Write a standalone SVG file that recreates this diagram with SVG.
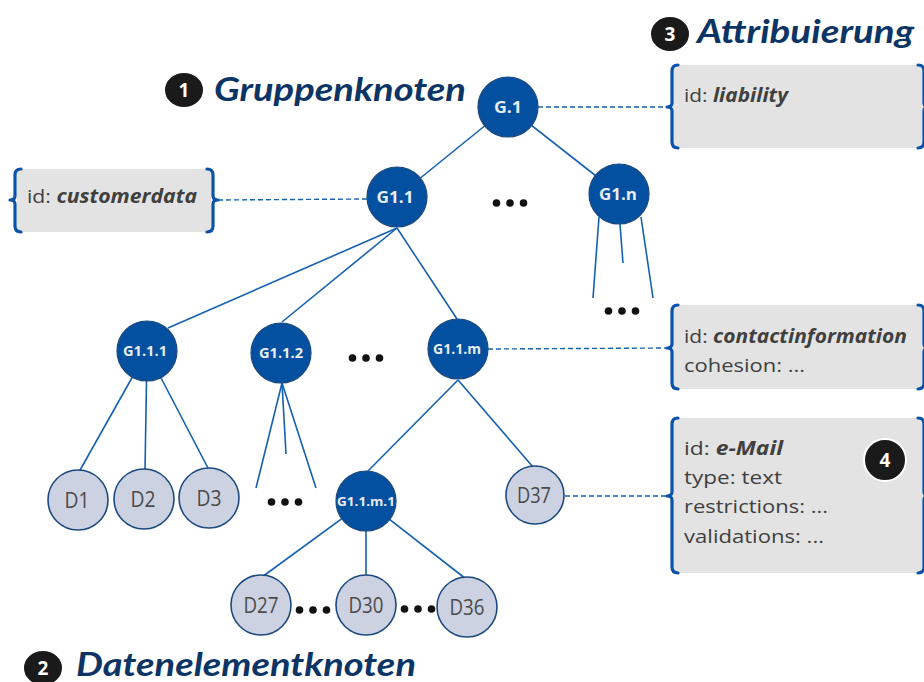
<svg xmlns="http://www.w3.org/2000/svg" width="924" height="682" viewBox="0 0 924 682">
  <defs>
    <style>
      .edge { stroke: #1560b0; stroke-width: 1.6; fill: none; }
      .dash { stroke: #1560b0; stroke-width: 1.4; fill: none; stroke-dasharray: 5 3; }
      .brace { stroke: #0a52a8; stroke-width: 3.2; fill: none; stroke-linecap: round; stroke-linejoin: round; }
      .box { fill: #e3e3e3; }
      .gnode { fill: #0350a0; stroke: #1d4a7e; stroke-width: 1.2; }
      .dnode { fill: #cdd2e2; stroke: #1d4a7e; stroke-width: 1.6; }
      .glabel { font-family: "Open Sans", Lato, "Liberation Sans", sans-serif; font-weight: bold; fill: #e8ecf3; text-anchor: middle; }
      .dlabel { font-family: "Open Sans", Lato, "Liberation Sans", sans-serif; font-size: 21px; fill: #4a4a4a; text-anchor: middle; }
      .attr { font-family: "Open Sans", Lato, "Liberation Sans", sans-serif; font-size: 19px; fill: #404040; }
      .val { font-weight: bold; font-style: italic; }
      .head { font-family: Lato, "Open Sans", "Liberation Sans", sans-serif; font-size: 32px; font-weight: bold; font-style: italic; fill: #0c3566; }
      .badge { fill: #1a1a1a; stroke: #ffffff; stroke-width: 2; }
      .badgenum { font-family: "Open Sans", Lato, "Liberation Sans", sans-serif; font-size: 19px; font-weight: bold; fill: #ffffff; text-anchor: middle; }
      .dot { fill: #111111; }
    </style>
    <g id="dots">
      <circle class="dot" cx="-13.5" cy="0" r="3.8"/>
      <circle class="dot" cx="0" cy="0" r="3.8"/>
      <circle class="dot" cx="13.5" cy="0" r="3.8"/>
    </g>
  </defs>

  <!-- attribute boxes -->
  <g id="box-customerdata">
    <rect class="box" x="17" y="169" width="194" height="63"/>
    <path class="brace" d="M21,169 Q15,169 15,175 L15,196 Q15,200 10,200 Q15,200 15,204 L15,226 Q15,232 21,232"/>
    <path class="brace" d="M207,169 Q213,169 213,175 L213,196 Q213,200 218,200 Q213,200 213,204 L213,226 Q213,232 207,232"/>
    <text class="attr" x="27" y="203" textLength="170" lengthAdjust="spacingAndGlyphs">id: <tspan class="val">customerdata</tspan></text>
  </g>

  <g id="box-liability">
    <rect class="box" x="673" y="65" width="250" height="83"/>
    <path class="brace" d="M678,65 Q672,65 672,71 L672,103 Q672,107 667,107 Q672,107 672,111 L672,142 Q672,148 678,148"/>
    <path class="brace" d="M918,65 Q924,65 924,71 L924,103 Q924,107 929,107 Q924,107 924,111 L924,142 Q924,148 918,148"/>
    <text class="attr" x="684" y="102" textLength="104" lengthAdjust="spacingAndGlyphs">id: <tspan class="val">liability</tspan></text>
  </g>

  <g id="box-contactinformation">
    <rect class="box" x="673" y="305" width="250" height="84"/>
    <path class="brace" d="M678,305 Q672,305 672,311 L672,344 Q672,348 667,348 Q672,348 672,352 L672,383 Q672,389 678,389"/>
    <path class="brace" d="M918,305 Q924,305 924,311 L924,344 Q924,348 929,348 Q924,348 924,352 L924,383 Q924,389 918,389"/>
    <text class="attr" x="684" y="343" textLength="223" lengthAdjust="spacingAndGlyphs">id: <tspan class="val">contactinformation</tspan></text>
    <text class="attr" x="684" y="372" textLength="121" lengthAdjust="spacingAndGlyphs">cohesion: ...</text>
  </g>

  <g id="box-email">
    <rect class="box" x="673" y="418" width="250" height="155"/>
    <path class="brace" d="M678,418 Q672,418 672,424 L672,492 Q672,496 667,496 Q672,496 672,500 L672,567 Q672,573 678,573"/>
    <path class="brace" d="M918,418 Q924,418 924,424 L924,492 Q924,496 929,496 Q924,496 924,500 L924,567 Q924,573 918,573"/>
    <text class="attr" x="684" y="455" textLength="99" lengthAdjust="spacingAndGlyphs">id: <tspan class="val">e-Mail</tspan></text>
    <text class="attr" x="684" y="484" textLength="98" lengthAdjust="spacingAndGlyphs">type: text</text>
    <text class="attr" x="684" y="513" textLength="144" lengthAdjust="spacingAndGlyphs">restrictions: ...</text>
    <text class="attr" x="684" y="543" textLength="140" lengthAdjust="spacingAndGlyphs">validations: ...</text>
  </g>

  <!-- tree edges and attribute links -->
  <g id="connectors">
    <line class="edge" x1="508" y1="107" x2="397" y2="197"/>
    <line class="edge" x1="508" y1="107" x2="619" y2="194"/>
    <line class="edge" x1="397" y1="228" x2="168" y2="328"/>
    <line class="edge" x1="397" y1="228" x2="282" y2="322"/>
    <line class="edge" x1="397" y1="228" x2="457" y2="319"/>
    <line class="edge" x1="599" y1="217" x2="593" y2="298"/>
    <line class="edge" x1="620" y1="224" x2="623" y2="263"/>
    <line class="edge" x1="641" y1="217" x2="653" y2="298"/>
    <line class="edge" x1="147" y1="351" x2="79" y2="472"/>
    <line class="edge" x1="147" y1="351" x2="145" y2="470"/>
    <line class="edge" x1="147" y1="351" x2="209" y2="470"/>
    <line class="edge" x1="282" y1="383" x2="256" y2="488"/>
    <line class="edge" x1="282" y1="383" x2="286" y2="454"/>
    <line class="edge" x1="282" y1="383" x2="316" y2="488"/>
    <line class="edge" x1="458" y1="380" x2="367" y2="472"/>
    <line class="edge" x1="458" y1="380" x2="533" y2="467"/>
    <line class="edge" x1="366" y1="501" x2="262" y2="577"/>
    <line class="edge" x1="366" y1="501" x2="366" y2="577"/>
    <line class="edge" x1="366" y1="501" x2="466" y2="579"/>
    <line class="dash" x1="538" y1="107" x2="667" y2="107"/>
    <line class="dash" x1="367" y1="199" x2="218" y2="200"/>
    <line class="dash" x1="488" y1="349" x2="667" y2="348"/>
    <line class="dash" x1="565" y1="496" x2="667" y2="496"/>
  </g>

  <!-- group nodes -->
  <g id="g1"><circle class="gnode" cx="508" cy="107" r="30"/><text class="glabel" x="508" y="112.5" font-size="15.5" textLength="28" lengthAdjust="spacingAndGlyphs">G.1</text></g>
  <g id="g1-1"><circle class="gnode" cx="397" cy="197" r="30"/><text class="glabel" x="395" y="202.5" font-size="15.5" textLength="37" lengthAdjust="spacingAndGlyphs">G1.1</text></g>
  <g id="g1-n"><circle class="gnode" cx="619" cy="194" r="30"/><text class="glabel" x="618" y="199.5" font-size="15.5" textLength="38" lengthAdjust="spacingAndGlyphs">G1.n</text></g>
  <g id="g1-1-1"><circle class="gnode" cx="147" cy="351" r="30"/><text class="glabel" x="145" y="356" font-size="14" textLength="44" lengthAdjust="spacingAndGlyphs">G1.1.1</text></g>
  <g id="g1-1-2"><circle class="gnode" cx="281" cy="353" r="30"/><text class="glabel" x="281" y="358" font-size="14" textLength="44" lengthAdjust="spacingAndGlyphs">G1.1.2</text></g>
  <g id="g1-1-m"><circle class="gnode" cx="458" cy="349" r="30"/><text class="glabel" x="457" y="354" font-size="14" textLength="48" lengthAdjust="spacingAndGlyphs">G1.1.m</text></g>
  <g id="g1-1-m-1"><circle class="gnode" cx="366" cy="501" r="30"/><text class="glabel" x="366" y="505.5" font-size="12.5" textLength="58" lengthAdjust="spacingAndGlyphs">G1.1.m.1</text></g>

  <!-- data element nodes -->
  <g id="d1"><circle class="dnode" cx="78" cy="500" r="30"/><text class="dlabel" x="77" y="507.5" textLength="25" lengthAdjust="spacingAndGlyphs">D1</text></g>
  <g id="d2"><circle class="dnode" cx="144" cy="499" r="30"/><text class="dlabel" x="143" y="506.5" textLength="25" lengthAdjust="spacingAndGlyphs">D2</text></g>
  <g id="d3"><circle class="dnode" cx="209" cy="498" r="30"/><text class="dlabel" x="209" y="505.5" textLength="25" lengthAdjust="spacingAndGlyphs">D3</text></g>
  <g id="d37"><circle class="dnode" cx="535" cy="495" r="29"/><text class="dlabel" x="534" y="502.5" textLength="34" lengthAdjust="spacingAndGlyphs">D37</text></g>
  <g id="d27"><circle class="dnode" cx="261" cy="605" r="30"/><text class="dlabel" x="261" y="612.5" textLength="35" lengthAdjust="spacingAndGlyphs">D27</text></g>
  <g id="d30"><circle class="dnode" cx="366" cy="605" r="30"/><text class="dlabel" x="366" y="612.5" textLength="35" lengthAdjust="spacingAndGlyphs">D30</text></g>
  <g id="d36"><circle class="dnode" cx="467" cy="607" r="30"/><text class="dlabel" x="467" y="614.5" textLength="35" lengthAdjust="spacingAndGlyphs">D36</text></g>

  <!-- ellipses for omitted siblings -->
  <use href="#dots" x="510" y="203"/>
  <use href="#dots" x="622" y="311"/>
  <use href="#dots" x="366" y="358"/>
  <use href="#dots" x="285" y="502"/>
  <use href="#dots" x="313" y="610"/>
  <use href="#dots" x="418" y="609"/>

  <!-- numbered headings -->
  <g id="heading-1">
    <ellipse class="badge" cx="184" cy="90" rx="20" ry="18"/>
    <text class="badgenum" x="184" y="97">1</text>
    <text class="head" x="214" y="101" textLength="252" lengthAdjust="spacingAndGlyphs">Gruppenknoten</text>
  </g>
  <g id="heading-2">
    <ellipse class="badge" cx="43" cy="668" rx="20" ry="18"/>
    <text class="badgenum" x="43" y="675">2</text>
    <text class="head" x="76" y="676" textLength="340" lengthAdjust="spacingAndGlyphs">Datenelementknoten</text>
  </g>
  <g id="heading-3">
    <ellipse class="badge" cx="670" cy="34" rx="20" ry="18"/>
    <text class="badgenum" x="670" y="41">3</text>
    <text class="head" x="697" y="43" textLength="217" lengthAdjust="spacingAndGlyphs">Attribuierung</text>
  </g>
  <g id="badge-4">
    <ellipse class="badge" cx="885" cy="460" rx="21" ry="21"/>
    <text class="badgenum" x="885" y="467">4</text>
  </g>
</svg>
